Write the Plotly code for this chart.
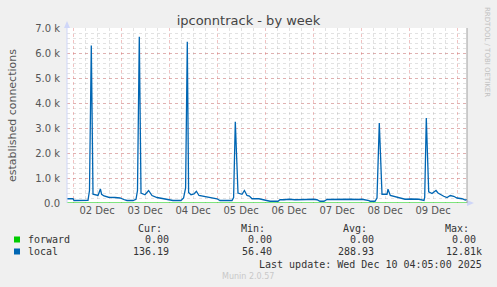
import pandas as pd
import plotly.graph_objects as go

# ---- data ----
base_time = "2025-12-02 00:00"
hours = [-3, 0, 0.5, 7.5, 8.25, 9.15, 10, 11, 12.5, 13.7, 14.3, 15.5, 17.8, 21, 23.5, 26, 27, 30,
         31.5, 32.25, 33.15, 34, 35.5, 36, 37.8, 39.5, 42, 45, 47, 49, 50, 54, 55.3, 56.3, 57.15,
         57.8, 59, 60.5, 61.7, 63, 65, 68, 70, 72, 73.5, 79.5, 80.3, 81.15, 82.5, 84.5, 85.7, 87,
         88.2, 89.5, 93, 96, 98.5, 102.5, 103.5, 105.5, 108, 111, 114, 117, 120, 122, 123.5, 125.5,
         127, 130, 133, 136, 139, 142, 144.5, 148, 148.5, 151, 152, 153.15, 154.15, 154.5, 157,
         157.5, 158.65, 160.3, 162.8, 166, 169, 173, 175.5, 175.85, 176.65, 177.85, 179.5, 181.5,
         182.5, 183.5, 185.35, 187, 188.65, 190.35, 192, 194.5, 196.15, 197]
local = [170, 170, 100, 110, 500, 6300, 350, 330, 300, 560, 350, 280, 230, 220, 200, 120, 100, 100,
         150, 500, 6650, 400, 350, 330, 500, 300, 220, 180, 160, 130, 100, 100, 200, 600, 6450,
         420, 330, 360, 470, 300, 270, 220, 180, 170, 100, 100, 220, 3250, 400, 350, 500, 300,
         280, 170, 170, 120, 70, 70, 130, 130, 150, 130, 150, 140, 150, 130, 70, 70,
         140, 150, 140, 160, 150, 140, 150, 100, 70, 70, 200, 3200, 450, 350, 350,
         550, 300, 270, 200, 150, 160, 150, 100, 220, 3400, 450, 380, 500,
         400, 350, 270, 220, 300, 270, 200, 170, 120, 136]
forward = [0.0] * len(hours)

y_ticks = [0, 1000, 2000, 3000, 4000, 5000, 6000, 7000]
y_labels = ["0.0", "1.0 k", "2.0 k", "3.0 k", "4.0 k", "5.0 k", "6.0 k", "7.0 k"]
x_range = ["2025-12-01 21:00", "2025-12-10 05:00"]

series_names = ["forward", "local"]
series_colors = ["#00cc00", "#0066b3"]
cur = ["0.00", "136.19"]
mins = ["0.00", "56.40"]
avgs = ["0.00", "288.93"]
maxs = ["0.00", "12.81k"]

times = pd.Timestamp(base_time) + pd.to_timedelta(hours, unit="h")

# ---- geometry helpers (plot area 67..467 x 28..203 px) ----
W, H = 497, 287
L, R, T, B = 67, 467, 28, 203


def px(x):
    return (x - L) / (R - L)


def py(y):
    return (B - y) / (B - T)


fig = go.Figure()
fig.add_trace(go.Scatter(x=times, y=forward, mode="lines", line=dict(color=series_colors[0], width=1.2),
                         name=series_names[0], hoverinfo="skip"))
fig.add_trace(go.Scatter(x=times, y=local, mode="lines", line=dict(color=series_colors[1], width=1.3),
                         name=series_names[1], hoverinfo="skip"))

major = "rgba(222,110,110,0.42)"
minor = "rgba(160,160,160,0.3)"
tickfont = dict(family="DejaVu Sans", size=10, color="#555555")

fig.update_layout(
    width=W, height=H,
    margin=dict(l=L, r=W - R, t=T, b=H - B),
    paper_bgcolor="#f0f0f0", plot_bgcolor="#ffffff",
    showlegend=False,
    title=dict(text="ipconntrack - by week", x=0.5, xref="container", xanchor="center",
               y=1 - 20 / H, yanchor="middle",
               font=dict(family="DejaVu Sans", size=13, color="#444444")),
    xaxis=dict(type="date", range=x_range, tick0="2025-12-02", dtick=86400000,
               ticklabelmode="period", tickformat="%d %b", tickfont=tickfont,
               showgrid=True, gridcolor=major, griddash="dot", gridwidth=1,
               minor=dict(dtick=6 * 3600 * 1000, showgrid=True, gridcolor=minor, griddash="dot"),
               zeroline=False, showline=False, ticks=""),
    yaxis=dict(range=[0, 7000], tickvals=y_ticks, ticktext=y_labels, tickfont=tickfont,
               showgrid=True, gridcolor=major, griddash="dot", gridwidth=1,
               minor=dict(dtick=200, showgrid=True, gridcolor=minor, griddash="dot"),
               zeroline=False, showline=False, ticks="", ticklabelstandoff=6,
               title=dict(text="established connections", standoff=16,
                          font=dict(family="DejaVu Sans", size=11, color="#555555"))),
)

axis_col = "#cfd6f8"
shapes = [
    # left axis + arrow
    dict(type="line", xref="paper", yref="paper", x0=0, x1=0, y0=0, y1=py(23),
         line=dict(color=axis_col, width=1)),
    dict(type="path", xref="paper", yref="paper",
         path=f"M {px(64)} {py(28)} L {px(70)} {py(28)} L {px(67)} {py(21)} Z",
         fillcolor=axis_col, line=dict(width=0)),
    # bottom arrow
    dict(type="path", xref="paper", yref="paper",
         path=f"M {px(467)} {py(200)} L {px(467)} {py(206)} L {px(474)} {py(203)} Z",
         fillcolor=axis_col, line=dict(width=0)),
    # right border
    dict(type="line", xref="paper", yref="paper", x0=1, x1=1, y0=0, y1=1,
         line=dict(color="#a0a0a0", width=1)),
]
# legend squares
for i, c in enumerate(series_colors):
    yc = 239.5 + i * 12
    shapes.append(dict(type="rect", xref="paper", yref="paper", x0=px(14), x1=px(20),
                       y0=py(yc + 3), y1=py(yc - 3), fillcolor=c, line=dict(width=0)))
fig.update_layout(shapes=shapes)

mono = dict(family="DejaVu Sans Mono", size=10, color="#333333")
ann = []


def text(x, y, s, anchor="left", font=mono):
    ann.append(dict(x=px(x), y=py(y), xref="paper", yref="paper", text=s, showarrow=False,
                    xanchor=anchor, yanchor="middle", font=font))


for hx, h in [(164, "Cur:"), (267, "Min:"), (369, "Avg:"), (471, "Max:")]:
    text(hx, 228, h, "right")
for i, n in enumerate(series_names):
    yy = 239.5 + i * 12
    text(26, yy, n, "left")
    text(171, yy, cur[i], "right")
    text(274, yy, mins[i], "right")
    text(376, yy, avgs[i], "right")
    mx = maxs[i]
    text(484 if mx.endswith("k") else 478, yy, mx, "right")
text(484, 264, "Last update: Wed Dec 10 04:05:00 2025", "right")
text(248, 276, "Munin 2.0.57", "center", dict(family="DejaVu Sans", size=8, color="#c8c8c8"))
ann.append(dict(x=px(487), y=py(52), xref="paper", yref="paper", text="RRDTOOL / TOBI OETIKER",
                showarrow=False, textangle=90, xanchor="center", yanchor="middle",
                font=dict(family="DejaVu Sans", size=7, color="#c0c0c0")))
fig.update_layout(annotations=ann)

fig.write_html("out.html")
